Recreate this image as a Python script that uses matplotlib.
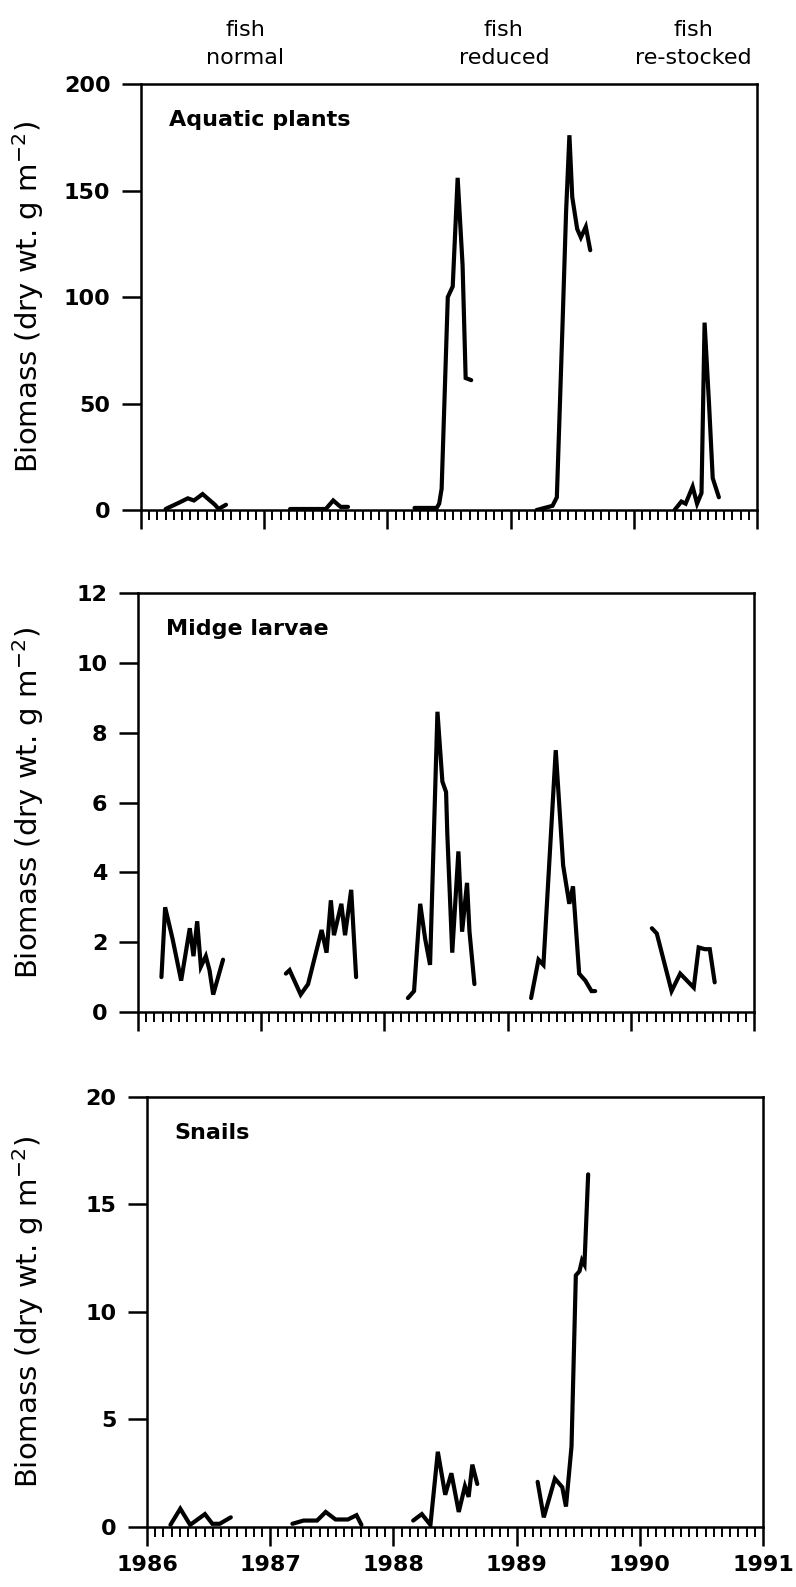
#!/usr/bin/env python3
# -*- coding: utf-8 -*-
"""
Biomass of aquatic plants, midge larvae and snails, 1986-1991
"""

import matplotlib
matplotlib.use("Agg")
import matplotlib.pyplot as plt
from matplotlib.ticker import MultipleLocator

# Aquatic plants, one list per sampling season (decimal year, g m-2)
plants_t = [
    [1986.20, 1986.31, 1986.38, 1986.43, 1986.50, 1986.60, 1986.63, 1986.69],
    [1987.21, 1987.50, 1987.56, 1987.62, 1987.68],
    [1988.22, 1988.30, 1988.40, 1988.42, 1988.44, 1988.49, 1988.53,
     1988.57, 1988.61, 1988.635, 1988.68],
    [1989.21, 1989.34, 1989.375, 1989.42, 1989.45, 1989.477, 1989.50,
     1989.54, 1989.57, 1989.61, 1989.646],
    [1990.33, 1990.386, 1990.42, 1990.477, 1990.513, 1990.549, 1990.574,
     1990.61, 1990.64, 1990.69],
]
plants_v = [
    [0.5, 3.5, 5.5, 4.5, 7.5, 2.5, 0.5, 2.5],
    [0.5, 0.5, 4.5, 1.5, 1.5],
    [1, 1, 1, 3, 10, 100, 105, 156, 115, 62, 61],
    [0, 2, 6, 85, 140, 176, 147, 132, 128, 133, 122],
    [0, 4, 3, 11, 3, 8, 88, 50, 15, 6],
]

# Midge larvae
midge_t = [
    [1986.19, 1986.22, 1986.28, 1986.35, 1986.42, 1986.45, 1986.48,
     1986.51, 1986.55, 1986.58, 1986.61, 1986.69],
    [1987.20, 1987.23, 1987.32, 1987.38, 1987.49, 1987.53, 1987.565,
     1987.59, 1987.65, 1987.68, 1987.73, 1987.77],
    [1988.19, 1988.24, 1988.29, 1988.33, 1988.37, 1988.43, 1988.47,
     1988.50, 1988.51, 1988.55, 1988.60, 1988.63, 1988.67, 1988.69, 1988.73],
    [1989.19, 1989.25, 1989.29, 1989.39, 1989.45, 1989.50, 1989.53,
     1989.58, 1989.63, 1989.68, 1989.71],
    [1990.17, 1990.21, 1990.33, 1990.40, 1990.51, 1990.55, 1990.60,
     1990.64, 1990.68],
]
midge_v = [
    [1.0, 3.0, 2.1, 0.9, 2.4, 1.6, 2.6, 1.3, 1.6, 1.2, 0.5, 1.5],
    [1.1, 1.2, 0.5, 0.8, 2.35, 1.7, 3.2, 2.2, 3.1, 2.2, 3.5, 1.0],
    [0.4, 0.6, 3.1, 2.1, 1.35, 8.6, 6.6, 6.3, 5.1, 1.7, 4.6, 2.3, 3.7, 2.3, 0.8],
    [0.4, 1.5, 1.35, 7.5, 4.2, 3.1, 3.6, 1.1, 0.9, 0.6, 0.6],
    [2.4, 2.25, 0.6, 1.1, 0.7, 1.85, 1.8, 1.8, 0.85],
]

# Snails
snail_t = [
    [1986.19, 1986.27, 1986.35, 1986.47, 1986.53, 1986.59, 1986.68],
    [1987.18, 1987.27, 1987.38, 1987.45, 1987.53, 1987.63, 1987.70, 1987.74],
    [1988.16, 1988.23, 1988.30, 1988.36, 1988.42, 1988.47, 1988.53,
     1988.58, 1988.61, 1988.64, 1988.68],
    [1989.17, 1989.22, 1989.31, 1989.37, 1989.40, 1989.445, 1989.48,
     1989.51, 1989.53, 1989.55, 1989.58],
]
snail_v = [
    [0.1, 0.85, 0.1, 0.6, 0.15, 0.15, 0.45],
    [0.15, 0.3, 0.3, 0.7, 0.35, 0.35, 0.55, 0.1],
    [0.3, 0.6, 0.1, 3.5, 1.5, 2.5, 0.7, 1.9, 1.4, 2.9, 2.0],
    [2.1, 0.45, 2.25, 1.85, 0.95, 3.75, 11.7, 11.9, 12.4, 12.2, 16.4],
]

titles = ["Aquatic plants", "Midge larvae", "Snails"]
ymax = [200, 12, 20]
ystep = [50, 2, 5]
years = [1986, 1987, 1988, 1989, 1990, 1991]
phases = ["fish\nnormal", "fish\nreduced", "fish\nre-stocked"]
phase_x = [0.169, 0.589, 0.896]

# axes boxes in figure fraction [left, bottom, width, height]
boxes = [
    [0.1771, 0.6786, 0.774, 0.2684],
    [0.1734, 0.3623, 0.774, 0.2640],
    [0.1847, 0.0378, 0.774, 0.2710],
]
label_x = [-0.154, -0.149, -0.164]

plt.rcParams["font.family"] = ["DejaVu Sans"]

fig = plt.figure(figsize=(7.96, 15.87), dpi=100)

series = [(plants_t, plants_v), (midge_t, midge_v), (snail_t, snail_v)]

for i, (ts, vs) in enumerate(series):
    ax = fig.add_axes(boxes[i])
    for t, v in zip(ts, vs):
        ax.plot(t, v, color="black", lw=3.0, solid_capstyle="round",
                solid_joinstyle="miter")

    ax.set_xlim(1986, 1991)
    ax.set_ylim(0, ymax[i])
    ax.set_xticks(years)
    ax.xaxis.set_minor_locator(MultipleLocator(1 / 15))
    ax.yaxis.set_major_locator(MultipleLocator(ystep[i]))

    ax.tick_params(axis="x", which="major", direction="out", length=14,
                   width=1.8, pad=6, labelsize=16)
    ax.tick_params(axis="x", which="minor", direction="out", length=7,
                   width=1.4)
    ax.tick_params(axis="y", which="major", direction="out", length=14,
                   width=1.8, pad=8, labelsize=16)
    for lab in ax.get_xticklabels() + ax.get_yticklabels():
        lab.set_fontweight("bold")
    if i < 2:
        ax.tick_params(axis="x", which="both", labelbottom=False)

    for s in ax.spines.values():
        s.set_linewidth(1.8)

    ax.set_ylabel("Biomass (dry wt. g m$^{-2}$)", fontsize=21)
    ax.yaxis.set_label_coords(label_x[i], 0.5)

    ax.text(0.045, 0.915, titles[i], transform=ax.transAxes, fontsize=16,
            fontweight="bold", ha="left", va="center")

    if i == 0:
        for name, px in zip(phases, phase_x):
            ax.text(px, 1.094, name, transform=ax.transAxes, fontsize=16,
                    ha="center", va="center", linespacing=1.45)

fig.savefig("out.png", dpi=100)
